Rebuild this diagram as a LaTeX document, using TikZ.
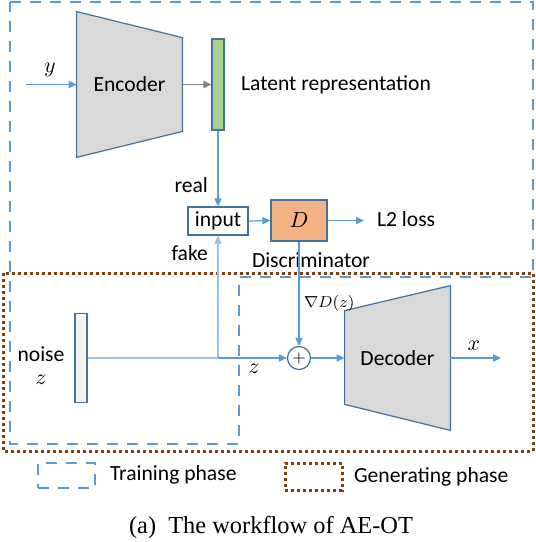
\documentclass[tikz,border=0pt]{standalone}
\usepackage{fontspec}
\setmainfont{Carlito}
\newfontfamily\capfont{Liberation Serif}
\usetikzlibrary{arrows.meta,backgrounds}

\definecolor{lineblue}{HTML}{5B9BD5}
\definecolor{edgeblue}{HTML}{41719C}
\definecolor{paleblue}{HTML}{9DC3E6}
\definecolor{encgray}{HTML}{D9D9D9}
\definecolor{noisegray}{HTML}{F2F2F2}
\definecolor{latgreen}{HTML}{A9D18E}
\definecolor{discorange}{HTML}{F4B183}
\definecolor{phasebrown}{HTML}{843C0C}

\begin{document}
\begin{tikzpicture}[x=0.5pt,y=-0.5pt]
   \tikzstyle{every node}=[font=\fontsize{10.8}{12}\selectfont]
   \tikzstyle{flow}=[draw=lineblue,line width=0.6pt,-{Triangle[length=4pt,width=3.6pt]}]
   \tikzstyle{block}=[draw=edgeblue,line width=0.6pt,inner sep=0pt]
   \tikzstyle{training}=[draw=lineblue,line width=1.1pt,dash pattern=on 5.5pt off 4.5pt]
   \tikzstyle{generating}=[draw=phasebrown,line width=1.5pt,dash pattern=on 1.5pt off 1.5pt]
   \useasboundingbox (0,0) rectangle (536,542);

   % phases
   \draw[generating] (3,273) rectangle (533,451);
   \draw[training] (10,2) -- (533,2) -- (533,277) -- (239,277) -- (239,444) -- (10,444) -- cycle;

   % encoder side
   \node (encoder) at (129.5,84.5) [minimum width=52.5pt,minimum height=72.5pt,inner sep=0pt] {Encoder};
   \coordinate (yin) at (26,84.5);
   \node (ylabel) at (50,70) {$y$};
   \draw[flow] (yin) -- (encoder.west);
   \node[block,fill=latgreen,minimum width=6pt,minimum height=45.5pt] (latent) at (218,84.5) {};
   \node[anchor=west] (latentlabel) at (234,85) {Latent representation};
   \draw[flow,draw=gray] (encoder.east) -- (latent.west);

   % discriminator
   \node[block,minimum width=30pt,minimum height=14pt] (input) at (218,221) {input};
   \node[block,fill=discorange,minimum width=28pt,minimum height=20.5pt] (disc) at (299,220.5) {$D$};
   \node (disclabel) at (311,260) {Discriminator};
   \coordinate (loss) at (364,220.5);
   \node[anchor=west] (losslabel) at (370,219) {L2 loss};
   \draw[flow] (latent.south) -- (input.north);
   \node[anchor=east] (reallabel) at (215,185) {real};
   \draw[flow] (input.east) -- (disc.west);
   \draw[flow] (disc.east) -- (loss);

   % noise and decoder
   \node[block,fill=noisegray,minimum width=6pt,minimum height=44.5pt] (noise) at (81,358) {};
   \node[align=center] (noiselabel) at (41,366) {noise\\[-0.5pt]$z$};
   \coordinate (split) at (218,358);
   \node[block,circle,minimum size=11.5pt,font=\footnotesize] (plus) at (299,358) {$+$};
   \draw[draw=paleblue,line width=0.6pt] (noise.east) -- (split);
   \draw[flow,draw=paleblue] (split) -- (input.south);
   \node[anchor=east] (fakelabel) at (215,253) {fake};
   \draw[flow] (split) -- (plus.west);
   \node (zlabel) at (254,369) {$z$};
   \draw[flow] (disc.south) -- (plus.north);
   \node[anchor=west,font=\fontsize{7.6}{9}\selectfont] (gradlabel) at (297,303) {$\nabla D(z)$};
   \node (decoder) at (397.5,358) [minimum width=52.5pt,minimum height=72pt,inner sep=0pt] {Decoder};
   \coordinate (xout) at (501,358);
   \node (xlabel) at (474,346) {$x$};
   \draw[flow] (plus.east) -- (decoder.west);
   \draw[flow] (decoder.east) -- (xout);

   \begin{scope}[on background layer]
      \filldraw[block,fill=encgray] (encoder.north west) -- ([yshift=-13pt]encoder.north east)
         -- ([yshift=13pt]encoder.south east) -- (encoder.south west) -- cycle;
      \filldraw[block,fill=encgray] ([yshift=-12.5pt]decoder.north west) -- (decoder.north east)
         -- (decoder.south east) -- ([yshift=13pt]decoder.south west) -- cycle;
   \end{scope}

   % legend
   \node[training,minimum width=28.5pt,minimum height=12.5pt] (trainkey) at (66.5,475.5) {};
   \node[anchor=west] (trainlabel) at (103,475) {Training phase};
   \node[generating,minimum width=28.5pt,minimum height=13.5pt] (genkey) at (313.5,476.5) {};
   \node[anchor=west] (genlabel) at (347,477) {Generating phase};

   \node[anchor=base,font=\capfont\fontsize{12.2}{14}\selectfont] (caption) at (271,533) {(a)\ \ The workflow of AE-OT};
\end{tikzpicture}
\end{document}
